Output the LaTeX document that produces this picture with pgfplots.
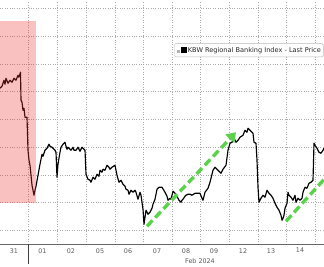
\documentclass[border=0pt]{standalone}
\usepackage{pgfplots}
\pgfplotsset{compat=1.18}
\usepackage{fontspec}
\setmainfont{DejaVu Sans}
\usetikzlibrary{arrows.meta}
\definecolor{gridc}{RGB}{170,170,170}
\definecolor{lblc}{RGB}{90,90,90}
\definecolor{arrowg}{RGB}{90,210,75}
\definecolor{shade}{RGB}{240,50,50}
\begin{document}
\begin{tikzpicture}[trim axis left, trim axis right]
\begin{axis}[
  width=324bp, height=244bp, scale only axis,
  xmin=0, xmax=324, ymin=0, ymax=244,
  axis lines*=left,
  axis line style={-, draw=black!60, line width=0.6pt},
  y axis line style={draw=none},
  xtick={14,42.5,71,100,128,157,186,214,243,271,300},
  xticklabels={31,01,02,05,06,07,08,09,12,13,14},
  major tick length=0pt,
  minor xtick={28,57,86,115,143,172,200,229,258,286,315},
  minor tick length=0pt,
  xminorgrids=true, xmajorgrids=false,
  ytick={13.9,41.65,69.4,97.15,124.9,152.65,180.4,208.15,235.9},
  yticklabels={},
  y tick label style={inner sep=0pt},
  ymajorgrids=true,
  grid style={gridc, dotted, line width=0.5pt},
  minor grid style={gridc, dotted, line width=0.5pt},
  tick label style={font=\fontsize{6.4}{7}\selectfont, text=lblc},
  xticklabel style={yshift=-0.5bp},
]
\addplot[black, line width=1.15pt, line join=round] coordinates {
(0,156)(2,158)(4,164)(5,160)(6,166)(8,161)(10,164)(12,162)(14,166)(16,164)(18,169)(19,167)(20.5,172)(21,144)(22,142)(23,134)(24,136)(25,127)(27,127)(28,94)(29,84)(30,79)(31,69)(32,59)(33,54)(34,49)(35,54)(36,58)(38,69)(40,80)(42,90)(43,88)(45,94)(47,96)(49,100)(50,98)(52,97)(55,94)(56,92)(57,67)(58,80)(60,92)(61,97)(63,100)(65,102)(66,98)(67,95)(68,97)(70,95)(71,94)(73,97)(74,94)(76,94)(78,97)(80,93)(82,97)(84,95)(85,94)(86,70)(88,65)(90,64)(91,62)(93,67)(95,65)(97,70)(99,68)(100,74)(102,72)(103,75)(105,74)(107,79)(109,77)(110,75)(112,77)(115,79)(116,74)(117,69)(119,62)(121,64)(123,60)(125,58)(126,55)(128,54)(129,50)(131,54)(133,52)(135,54)(136,52)(138,45)(140,52)(141,49)(143,35)(144,20)(146,34)(148,30)(150,32)(152,36)(153,40)(155,45)(157,55)(159,57)(162,57)(165,52)(167,48)(168,44)(170,46)(171,45)(173,53)(175,51)(176,49)(178,46)(179,44)(181,42)(182,44)(183,45)(185,48)(186,49)(188,50)(190,50)(192,49)(195,51)(197,51)(200,51)(202,46)(203,44)(205,52)(208,56)(210,62)(211,66)(213,74)(215,77)(217,75)(218,74)(220,72)(221,71)(223,75)(226,79)(228,94)(230,101)(232,102)(234,106)(236,102)(238,104)(240,107)(243,109)(245,114)(247,112)(248,116)(250,114)(252,112)(253,111)(254,102)(256,101)(257,84)(258,57)(259,42)(261,46)(263,49)(265,47)(267,54)(269,51)(271,49)(273,46)(275,41)(277,37)(279,34)(281,29)(282,24)(283,26)(284,29)(285,36)(287,41)(288,52)(289,49)(291,47)(293,44)(295,49)(296,42)(298,46)(300,44)(302,46)(303,52)(305,57)(307,56)(309,61)(311,62)(313,64)(314,101)(315,99)(317,96)(319,92)(321,91)(323,94)(324,96)
};
\addplot[draw=none, fill=shade, fill opacity=0.3] coordinates {(0,41)(36,41)(36,223)(0,223)} -- cycle;
\addplot[arrowg, line width=3.4pt, dash pattern=on 8bp off 4bp,
  -{Triangle[length=9bp, width=12bp]}] coordinates {(147,18)(236,112)};
\addplot[arrowg, line width=3.4pt, dash pattern=on 8bp off 4bp] coordinates {(286,23)(326,67)};
\node[draw=gray!55, rounded corners=1.5pt, fill=white, anchor=east, inner xsep=2.5pt, inner ysep=3pt,
  font=\fontsize{6.6}{7}\selectfont, text=black!85] at (axis cs:323.5,194)
  {\textcolor{gray!60}{\rule{3bp}{3bp}}\,\textcolor{black}{\rule{6bp}{6bp}}\,KBW Regional Banking Index - Last Price};
\coordinate (sep) at (axis cs:28,0);
\coordinate (feb) at (axis cs:200,0);
\end{axis}
\draw[black!75, line width=0.6pt] (sep) -- ++(0,-20bp);
\node[font=\fontsize{6.4}{7}\selectfont, text=lblc, anchor=base] at ([yshift=-19bp]feb) {Feb 2024};
\end{tikzpicture}
\end{document}
